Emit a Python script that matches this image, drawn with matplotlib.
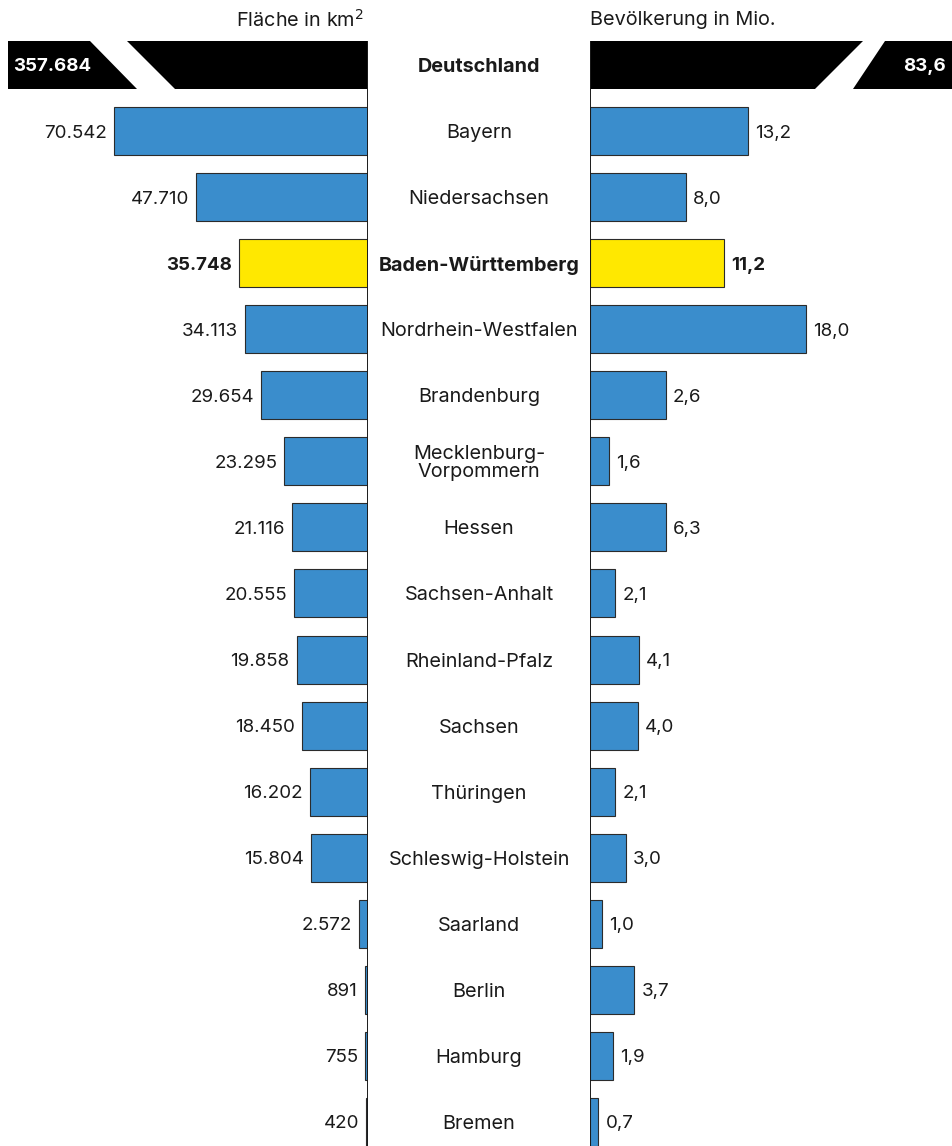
import matplotlib.pyplot as plt
import matplotlib.transforms as mtransforms
from matplotlib.patches import Polygon

plt.rcParams['font.family'] = ['Inter', 'DejaVu Sans']

# data
laender = ['Bayern', 'Niedersachsen', 'Baden-Württemberg', 'Nordrhein-Westfalen',
           'Brandenburg', 'Mecklenburg-\nVorpommern', 'Hessen', 'Sachsen-Anhalt',
           'Rheinland-Pfalz', 'Sachsen', 'Thüringen', 'Schleswig-Holstein',
           'Saarland', 'Berlin', 'Hamburg', 'Bremen']
flaeche = [70542, 47710, 35748, 34113, 29654, 23295, 21116, 20555,
           19858, 18450, 16202, 15804, 2572, 891, 755, 420]
bevoelkerung = [13.2, 8.0, 11.2, 18.0, 2.6, 1.6, 6.3, 2.1,
                4.1, 4.0, 2.1, 3.0, 1.0, 3.7, 1.9, 0.7]
# bar lengths as drawn in the original (Brandenburg bar is drawn at 6.3 there)
bev_balken = [13.2, 8.0, 11.2, 18.0, 6.3, 1.6, 6.3, 2.1,
              4.1, 4.0, 2.1, 3.0, 1.0, 3.7, 1.9, 0.7]
gesamt_name = 'Deutschland'
gesamt_flaeche = 357684
gesamt_bev = 83.6
highlight = 'Baden-Württemberg'

blue = '#3a8dcc'
yellow = '#ffe800'
edge = '#2b2b2b'
txt = '#1a1a1a'

W, H = 953, 1146
fig = plt.figure(figsize=(W / 100, H / 100), dpi=100)

# pixel layout
x_left, x_right = 368, 590
row0, step = 65, 66.06
ylim = ((H - row0) / step, -row0 / step)
bh = 48 / step

ax_l = fig.add_axes([0, 0, x_left / W, 1])
ax_r = fig.add_axes([x_right / W, 0, (W - x_right) / W, 1])
ax_l.set_xlim(x_left / 3.6 * 1000, 0)
ax_r.set_xlim(0, (W - x_right) / 12.0)
for ax in (ax_l, ax_r):
    ax.set_ylim(*ylim)
    ax.axis('off')

ys = list(range(1, len(laender) + 1))
cols = [yellow if n == highlight else blue for n in laender]

ax_l.barh(ys, flaeche, height=bh, color=cols, edgecolor=edge, linewidth=0.8)
ax_r.barh(ys, bev_balken, height=bh, color=cols, edgecolor=edge, linewidth=0.8)

# Deutschland: broken bars clipped to the axis range
l_max = 100000
r_max = ax_r.get_xlim()[1]
ax_l.barh(0, l_max, height=bh, color='black', linewidth=0)
ax_r.barh(0, r_max, height=bh, color='black', linewidth=0)
px_l = 1000 / 3.6
y0, y1 = -bh / 2, bh / 2
ax_l.add_patch(Polygon([(l_max - 82 * px_l, y0), (l_max - 119 * px_l, y0),
                        (l_max - 167 * px_l, y1), (l_max - 129 * px_l, y1)],
                       closed=True, color='white', linewidth=0))
px_r = 1 / 12.0
ax_r.add_patch(Polygon([(273 * px_r, y0), (295 * px_r, y0),
                        (263 * px_r, y1), (225 * px_r, y1)],
                       closed=True, color='white', linewidth=0))


def de_int(v):
    return f'{v:,}'.replace(',', '.')


def de_dec(v):
    return f'{v:.1f}'.replace('.', ',')


fs_num = 13.5
fs_name = 14.3
dy = 0.03  # small downward nudge of text
for y, n, a, b, bl in zip(ys, laender, flaeche, bevoelkerung, bev_balken):
    w = 'bold' if n == highlight else 'normal'
    ax_l.text(a + 7 * px_l, y + dy, de_int(a), ha='right', va='center',
              fontsize=fs_num, fontweight=w, color=txt)
    ax_r.text(bl + 7 * px_r, y + dy, de_dec(b), ha='left', va='center',
              fontsize=fs_num, fontweight=w, color=txt)

ax_l.text(l_max - 5 * px_l, dy, de_int(gesamt_flaeche), ha='left', va='center',
          fontsize=fs_num, fontweight='bold', color='white')
ax_r.text(r_max - 7 * px_r, dy, de_dec(gesamt_bev), ha='right', va='center',
          fontsize=fs_num, fontweight='bold', color='white')

# names in the middle column
trans = mtransforms.blended_transform_factory(fig.transFigure, ax_l.transData)
xc = (x_left + x_right) / 2 / W
ax_l.text(xc, dy, gesamt_name, transform=trans, ha='center', va='center',
          fontsize=fs_name, fontweight='bold', color=txt, clip_on=False)
for y, n in zip(ys, laender):
    ax_l.text(xc, y + dy, n, transform=trans, ha='center', va='center',
              fontsize=fs_name, fontweight='bold' if n == highlight else 'normal',
              color=txt, linespacing=1.0, clip_on=False)

# centre lines
top = 1 - 42 / H
ax_l.axvline(0, ymin=0, ymax=top, color=txt, lw=1.4)
ax_r.axvline(0, ymin=0, ymax=top, color=txt, lw=1.4)

# headers
fig.text((x_left - 4) / W, 1 - 20 / H, 'Fläche in km$^2$', ha='right', va='center',
         fontsize=fs_name, color=txt)
fig.text(x_right / W, 1 - 20 / H, 'Bevölkerung in Mio.', ha='left', va='center',
         fontsize=fs_name, color=txt)

fig.savefig('out.png', dpi=100)
